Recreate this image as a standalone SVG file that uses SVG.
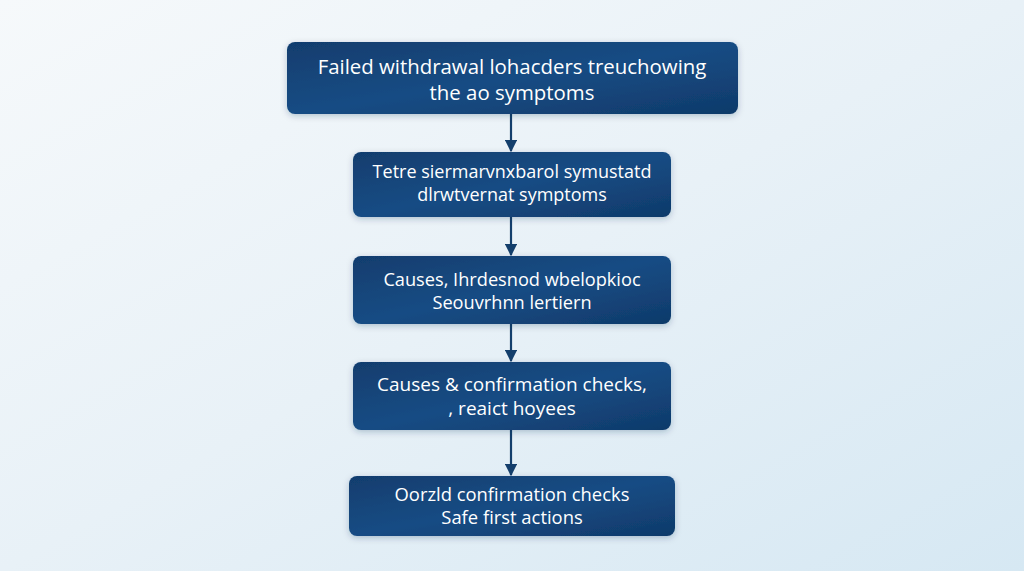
<svg xmlns="http://www.w3.org/2000/svg" width="1024" height="571" viewBox="0 0 1024 571">
<defs>
<linearGradient id="bg" x1="0" y1="0" x2="1" y2="1">
<stop offset="0" stop-color="#f6f9fb"/>
<stop offset="0.5" stop-color="#e8f1f7"/>
<stop offset="1" stop-color="#d6e8f3"/>
</linearGradient>
<linearGradient id="box" x1="0" y1="0" x2="1" y2="1">
<stop offset="0" stop-color="#113d6e"/>
<stop offset="0.5" stop-color="#174c84"/>
<stop offset="1" stop-color="#0f3a6a"/>
</linearGradient>
<filter id="sh" x="-10%" y="-20%" width="120%" height="150%">
<feDropShadow dx="0" dy="2" stdDeviation="3" flood-color="#0b2f57" flood-opacity="0.25"/>
</filter>
<marker id="ah" viewBox="0 0 10 10" refX="9" refY="5" markerWidth="5.5" markerHeight="5.5" orient="auto" markerUnits="strokeWidth">
<path d="M0,0 L10,5 L0,10 z" fill="#143f6c"/>
</marker>
<style>
.n rect{fill:url(#box);filter:url(#sh)}
.n text{fill:#ffffff;font-family:"Open Sans","Noto Sans","Liberation Sans",sans-serif;text-anchor:middle}
.c line{stroke:#143f6c;stroke-width:2.2;marker-end:url(#ah)}
</style>
</defs>
<rect width="1024" height="571" fill="url(#bg)"/>
<g class="c">
<line x1="511" y1="114" x2="511" y2="151"/>
<line x1="511" y1="217" x2="511" y2="255"/>
<line x1="511" y1="324" x2="511" y2="361"/>
<line x1="511" y1="430" x2="511" y2="475"/>
</g>
<g id="n1" class="n">
<rect x="287" y="42" width="451" height="72" rx="8"/>
<text x="512" y="74" font-size="20.4">Failed withdrawal lohacders treuchowing</text>
<text x="512" y="99.5" font-size="20.4">the ao symptoms</text>
</g>
<g id="n2" class="n">
<rect x="353" y="152" width="318" height="65" rx="8"/>
<text x="512" y="178" font-size="18">Tetre siermarvnxbarol symustatd</text>
<text x="512" y="201" font-size="18">dlrwtvernat symptoms</text>
</g>
<g id="n3" class="n">
<rect x="353" y="256" width="318" height="68" rx="8"/>
<text x="512" y="286" font-size="18.2">Causes, Ihrdesnod wbelopkioc</text>
<text x="512" y="309" font-size="18.2">Seouvrhnn lertiern</text>
</g>
<g id="n4" class="n">
<rect x="353" y="362" width="318" height="68" rx="8"/>
<text x="512" y="391" font-size="19">Causes &amp; confirmation checks,</text>
<text x="512" y="415" font-size="19">, reaict hoyees</text>
</g>
<g id="n5" class="n">
<rect x="349" y="476" width="326" height="60" rx="8"/>
<text x="512" y="501" font-size="18.4">Oorzld confirmation checks</text>
<text x="512" y="524" font-size="18.4">Safe first actions</text>
</g>
</svg>
